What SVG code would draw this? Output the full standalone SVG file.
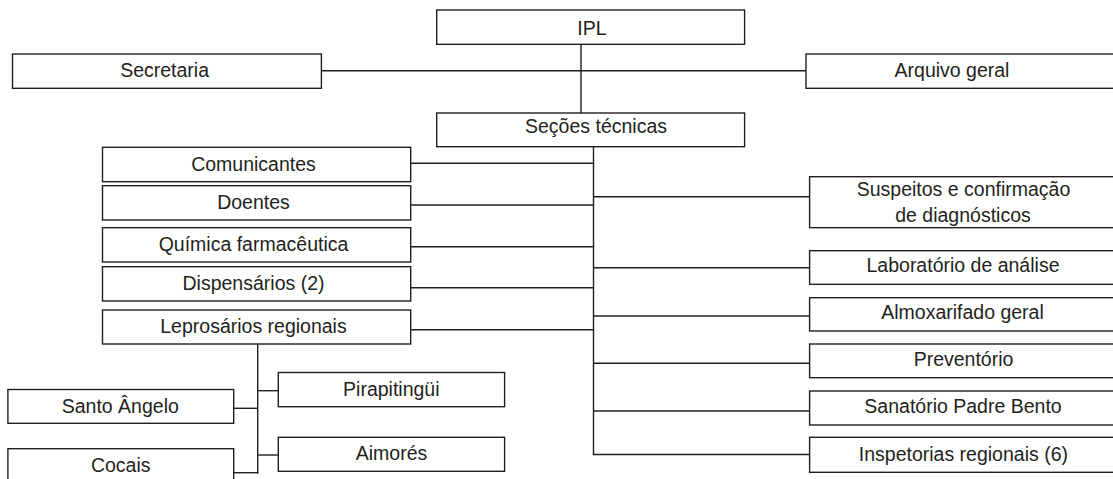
<svg xmlns="http://www.w3.org/2000/svg" width="1113" height="479" viewBox="0 0 1113 479">
<style>
  rect.box { fill: #ffffff; stroke: #231f20; stroke-width: 1.4; }
  text { font-family: "Liberation Sans", Arial, sans-serif; font-size: 19.5px; fill: #231f20; text-anchor: middle; }
  #connectors line { stroke: #231f20; stroke-width: 1.4; }
</style>
<rect width="1113" height="479" fill="#ffffff"/>
<g id="connectors">
  <line x1="581" y1="44.3" x2="581" y2="113"/>
  <line x1="321.4" y1="70.7" x2="806" y2="70.7"/>
  <line x1="593.5" y1="146.7" x2="593.5" y2="455"/>
  <line x1="410.7" y1="163.3" x2="593.5" y2="163.3"/>
  <line x1="410.7" y1="205" x2="593.5" y2="205"/>
  <line x1="410.7" y1="246.7" x2="593.5" y2="246.7"/>
  <line x1="410.7" y1="287.7" x2="593.5" y2="287.7"/>
  <line x1="410.7" y1="329.7" x2="593.5" y2="329.7"/>
  <line x1="593.5" y1="196.7" x2="809.6" y2="196.7"/>
  <line x1="593.5" y1="267.7" x2="809.6" y2="267.7"/>
  <line x1="593.5" y1="316" x2="809.6" y2="316"/>
  <line x1="593.5" y1="363.3" x2="809.6" y2="363.3"/>
  <line x1="593.5" y1="411" x2="809.6" y2="411"/>
  <line x1="592.8" y1="454.5" x2="809.6" y2="454.5"/>
  <line x1="257.7" y1="344" x2="257.7" y2="473.4"/>
  <line x1="257.7" y1="390.7" x2="278.3" y2="390.7"/>
  <line x1="257.7" y1="455" x2="278.3" y2="455"/>
  <line x1="233.7" y1="408.3" x2="257.7" y2="408.3"/>
  <line x1="233.7" y1="472.7" x2="258.4" y2="472.7"/>
</g>
<g id="ipl"><rect class="box" x="436.7" y="10" width="307.9" height="34.3"/><text x="592" y="35">IPL</text></g>
<g id="secretaria"><rect class="box" x="12.5" y="54" width="308.9" height="34.3"/><text x="164.6" y="77.3">Secretaria</text></g>
<g id="arquivo-geral"><rect class="box" x="806" y="54" width="312" height="34.3"/><text x="952" y="77.3">Arquivo geral</text></g>
<g id="secoes-tecnicas"><rect class="box" x="436.7" y="113" width="307.9" height="33.7"/><text x="596" y="132.5">Seções técnicas</text></g>
<g id="comunicantes"><rect class="box" x="102.5" y="147.3" width="308.2" height="34.4"/><text x="253.5" y="171">Comunicantes</text></g>
<g id="doentes"><rect class="box" x="102.5" y="185.7" width="308.2" height="34.3"/><text x="253.5" y="208.5">Doentes</text></g>
<g id="quimica"><rect class="box" x="102.5" y="227.7" width="308.2" height="34.3"/><text x="253.5" y="251">Química farmacêutica</text></g>
<g id="dispensarios"><rect class="box" x="102.5" y="266.7" width="308.2" height="34.3"/><text x="253.5" y="290">Dispensários (2)</text></g>
<g id="leprosarios"><rect class="box" x="102.5" y="310" width="308.2" height="34"/><text x="253.5" y="332.7">Leprosários regionais</text></g>
<g id="suspeitos"><rect class="box" x="809.6" y="176.7" width="308" height="51"/><text x="963.5" y="196">Suspeitos e confirmação</text><text x="963" y="221.7">de diagnósticos</text></g>
<g id="laboratorio"><rect class="box" x="809.6" y="250.7" width="308" height="33.6"/><text x="963" y="271.7">Laboratório de análise</text></g>
<g id="almoxarifado"><rect class="box" x="809.6" y="297.7" width="308" height="33.3"/><text x="962.5" y="319">Almoxarifado geral</text></g>
<g id="preventorio"><rect class="box" x="809.6" y="344" width="308" height="33.7"/><text x="963.5" y="365.7">Preventório</text></g>
<g id="sanatorio"><rect class="box" x="809.6" y="391" width="308" height="34"/><text x="963" y="413.3">Sanatório Padre Bento</text></g>
<g id="inspetorias"><rect class="box" x="809.6" y="437.3" width="308" height="35"/><text x="963.4" y="461">Inspetorias regionais (6)</text></g>
<g id="pirapitingui"><rect class="box" x="278.3" y="372.5" width="226.3" height="34.2"/><text x="391.3" y="396">Pirapitingüi</text></g>
<g id="aimores"><rect class="box" x="278.3" y="437.3" width="226.3" height="34"/><text x="391.5" y="460">Aimorés</text></g>
<g id="santo-angelo"><rect class="box" x="7.9" y="389.5" width="225.8" height="33.8"/><text x="120.3" y="412.7">Santo Ângelo</text></g>
<g id="cocais"><rect class="box" x="7.9" y="448.7" width="225.8" height="45"/><text x="120.7" y="471.7">Cocais</text></g>
</svg>
